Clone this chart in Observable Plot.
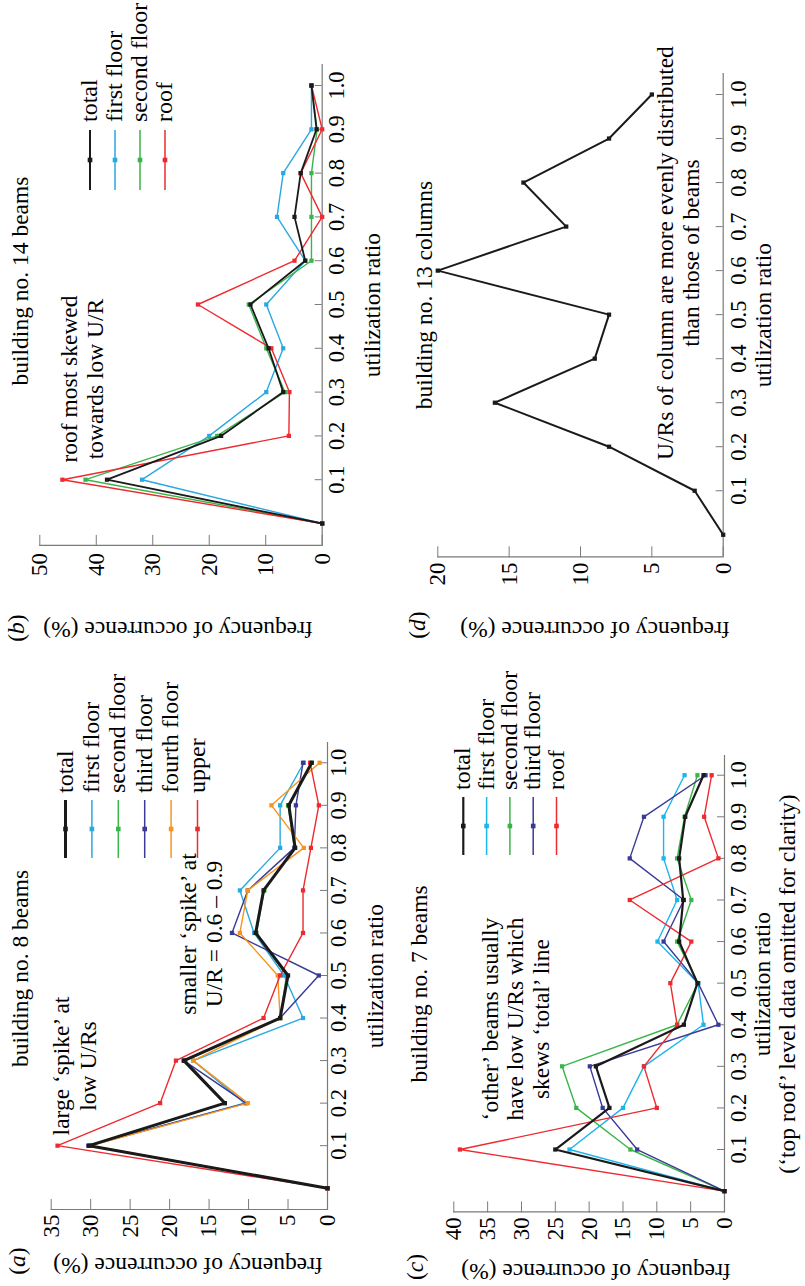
<!DOCTYPE html>
<html>
<head>
<meta charset="utf-8">
<script src="https://cdn.jsdelivr.net/npm/d3@7"></script>
<script src="https://cdn.jsdelivr.net/npm/@observablehq/plot@0.6"></script>
<style>
  html, body { margin: 0; padding: 0; overflow: hidden; background: #fff; }
  #fig { position: absolute; left: 0; top: 0; width: 1286px; height: 805px;
         transform-origin: 0 0; transform: translate(0px, 1286px) rotate(-90deg); }
  .pw { position: absolute; }
  #overlay { position: absolute; left: 0; top: 0; }
  #overlay text { font-family: 'Liberation Serif', 'Times New Roman', serif; font-size: 23.5px; fill: #000; }
</style>
</head>
<body>
<div id="fig"></div>
<script>
// ---------- data ----------
const ur = [0, 0.1, 0.2, 0.3, 0.4, 0.5, 0.6, 0.7, 0.8, 0.9, 1.0];
const urTicks = [0.1, 0.2, 0.3, 0.4, 0.5, 0.6, 0.7, 0.8, 0.9, 1.0];

// (a) building no. 8 beams
const aNames = ["total", "first floor", "second floor", "third floor", "fourth floor", "upper"];
const aTotal  = [0, 30.2, 13.0, 18.2, 6.0, 5.0, 9.1, 8.1, 4.1, 4.9, 2.0];
const aFirst  = [0, 30.0, 10.5, 17.0, 3.1, 5.5, 9.3, 11.1, 6.0, 6.0, 3.0];
const aSecond = [0, 30.0, 13.0, 18.0, 6.0, 5.2, 9.0, 8.0, 4.2, 5.0, 2.0];
const aThird  = [0, 30.3, 10.3, 18.2, 6.0, 1.1, 12.1, 10.1, 4.2, 4.0, 3.1];
const aFourth = [0, 30.0, 10.1, 17.0, 6.0, 6.3, 11.1, 10.1, 3.0, 7.1, 1.0];
const aUpper  = [0, 34.2, 21.2, 19.2, 8.1, 6.0, 3.1, 3.1, 2.1, 1.1, 2.2];
const aYTicks = [0, 5, 10, 15, 20, 25, 30, 35];

// (b) building no. 14 beams
const bNames = ["total", "first floor", "second floor", "roof"];
const bTotal  = [0, 38.1, 17.9, 6.9, 9.5, 12.7, 3.0, 4.9, 3.8, 1.0, 1.9];
const bFirst  = [0, 31.9, 20.0, 9.9, 6.9, 9.9, 3.0, 8.0, 6.9, 1.9, 1.9];
const bSecond = [0, 41.9, 18.6, 6.6, 9.9, 13.0, 1.9, 1.9, 1.9, 0.9, 1.9];
const bRoof   = [0, 46.0, 5.9, 5.8, 9.0, 22.0, 4.9, 0, 3.8, 0, 1.9];
const bYTicks = [0, 10, 20, 30, 40, 50];

// (c) building no. 7 beams
const cNames = ["total", "first floor", "second floor", "third floor", "roof"];
const cTotal  = [0, 25.0, 17.0, 19.0, 6.0, 4.0, 6.7, 6.1, 6.7, 5.8, 3.1];
const cFirst  = [0, 22.9, 15.0, 11.9, 3.1, 3.9, 9.9, 7.0, 9.0, 9.0, 5.9];
const cSecond = [0, 13.9, 21.9, 24.0, 7.0, 3.9, 7.0, 4.9, 7.0, 5.9, 4.0];
const cThird  = [0, 12.9, 18.0, 19.9, 0.9, 3.9, 9.0, 6.0, 14.0, 11.9, 2.8];
const cRoof   = [0, 39.1, 10.0, 11.9, 7.0, 8.0, 4.9, 14.0, 0.9, 3.0, 1.9];
const cYTicks = [0, 5, 10, 15, 20, 25, 30, 35, 40];

// (d) building no. 13 columns
const dTotal  = [0, 2.0, 8.0, 16.0, 9.0, 8.0, 20.0, 11.0, 14.0, 8.0, 5.0];
const dYTicks = [0, 5, 10, 15, 20];

// ---------- styles ----------
const AX = "#7a7a7a";
const FONT = "'Liberation Serif', 'Times New Roman', serif";
const C = {black: "#1a1a1a", blue: "#29a9e0", cyan: "#1cb5ec", green: "#3ab54a",
           navy: "#3a3a96", orange: "#f7941d", red: "#ee2a2f"};

function makePanel(cfg) {
  const marks = [
    Plot.ruleY([0], {stroke: AX, strokeWidth: 1.2}),
    Plot.ruleX([-0.05], {stroke: AX, strokeWidth: 1.2}),
    Plot.axisX(urTicks, {tickFormat: d3.format(".1f"), tickSize: -7, tickPadding: cfg.xPad,
      stroke: AX, fill: "black", fontSize: 22.5, fontFamily: FONT, label: null}),
    Plot.axisY(cfg.yTicks, {tickSize: -11, tickPadding: cfg.yPad, stroke: AX, fill: "black",
      fontSize: 23, fontFamily: FONT, label: null})
  ];
  for (const s of cfg.series) {
    const data = ur.map((u, i) => ({u, f: s.values[i]}));
    marks.push(Plot.line(data, {x: "u", y: "f", stroke: s.color, strokeWidth: s.width}));
    marks.push(Plot.dot(data, {x: "u", y: "f", symbol: "square", r: 2.4, fill: s.color, stroke: "none"}));
  }
  const svg = Plot.plot({
    width: cfg.width, height: cfg.height,
    marginLeft: cfg.mL, marginRight: cfg.width - cfg.xEnd, marginTop: cfg.mT, marginBottom: cfg.height - cfg.yZero,
    x: {domain: [-0.05, 1.05], axis: null},
    y: {domain: [0, cfg.ymax], axis: null},
    style: {background: "none", fontFamily: FONT, fontSize: "22px", overflow: "visible", maxWidth: "none"},
    marks
  });
  const wrap = document.createElement("div");
  wrap.className = "pw";
  wrap.style.left = cfg.left + "px";
  wrap.style.top = cfg.top + "px";
  wrap.style.width = cfg.width + "px";
  wrap.appendChild(svg);
  document.getElementById("fig").appendChild(wrap);
}

// panel (a)
makePanel({left: 0, top: 0, width: 564, height: 400, mL: 76, xEnd: 544, mT: 50.7, yZero: 327,
  ymax: 35, yTicks: aYTicks, xPad: 10, yPad: 16,
  series: [
    {values: aSecond, color: C.green, width: 1.4},
    {values: aFirst, color: C.blue, width: 1.4},
    {values: aThird, color: C.navy, width: 1.4},
    {values: aFourth, color: C.orange, width: 1.4},
    {values: aUpper, color: C.red, width: 1.4},
    {values: aTotal, color: C.black, width: 3}
  ]});

// panel (b)
makePanel({left: 650, top: 0, width: 591.9, height: 400, mL: 90.1, xEnd: 571.9, mT: 39.3, yZero: 321.7,
  ymax: 50, yTicks: bYTicks, xPad: 12.5, yPad: 18.5,
  series: [
    {values: bFirst, color: C.blue, width: 1.4},
    {values: bSecond, color: C.green, width: 1.4},
    {values: bRoof, color: C.red, width: 1.4},
    {values: bTotal, color: C.black, width: 1.8}
  ]});

// panel (c)
makePanel({left: 0, top: 400, width: 551.1, height: 400, mL: 73.6, xEnd: 531.1, mT: 53.3, yZero: 324,
  ymax: 40, yTicks: cYTicks, xPad: 12.5, yPad: 16.3,
  series: [
    {values: cFirst, color: C.cyan, width: 1.4},
    {values: cSecond, color: C.green, width: 1.4},
    {values: cThird, color: C.navy, width: 1.4},
    {values: cRoof, color: C.red, width: 1.4},
    {values: cTotal, color: C.black, width: 2.2}
  ]});

// panel (d)
makePanel({left: 650, top: 400, width: 583, height: 400, mL: 78.7, xEnd: 563, mT: 37.3, yZero: 322.7,
  ymax: 20, yTicks: dYTicks, xPad: 13.5, yPad: 16.7,
  series: [
    {values: dTotal, color: C.black, width: 2}
  ]});

// ---------- overlay: titles, axis titles, annotations, legends ----------
const NS = "http://www.w3.org/2000/svg";
const ov = document.createElementNS(NS, "svg");
ov.setAttribute("id", "overlay");
ov.setAttribute("width", 1286);
ov.setAttribute("height", 805);
document.getElementById("fig").appendChild(ov);

function txt(str, x, y, opts = {}) {
  const t = document.createElementNS(NS, "text");
  t.setAttribute("text-anchor", opts.anchor || "middle");
  if (opts.rotate) t.setAttribute("transform", `translate(${x},${y}) rotate(${opts.rotate})`);
  else { t.setAttribute("x", x); t.setAttribute("y", y); }
  if (opts.size) t.style.fontSize = opts.size + "px";
  t.textContent = str;
  ov.appendChild(t);
  return t;
}
function panelLabel(letter, x, y) {
  const t = document.createElementNS(NS, "text");
  t.setAttribute("x", x); t.setAttribute("y", y);
  t.setAttribute("text-anchor", "middle");
  const a = document.createElementNS(NS, "tspan"); a.textContent = "(";
  const b = document.createElementNS(NS, "tspan"); b.textContent = letter; b.setAttribute("font-style", "italic");
  const c = document.createElementNS(NS, "tspan"); c.textContent = ")";
  t.append(a, b, c);
  ov.appendChild(t);
}
function legend(names, colors, widths, x0, x1, xt, y0, dy) {
  names.forEach((n, i) => {
    const y = y0 + i * dy;
    const l = document.createElementNS(NS, "line");
    l.setAttribute("x1", x0); l.setAttribute("x2", x1); l.setAttribute("y1", y); l.setAttribute("y2", y);
    l.setAttribute("stroke", colors[i]); l.setAttribute("stroke-width", widths[i]);
    ov.appendChild(l);
    const r = document.createElementNS(NS, "rect");
    const xm = (x0 + x1) / 2;
    r.setAttribute("x", xm - 2.3); r.setAttribute("y", y - 2.3); r.setAttribute("width", 4.6); r.setAttribute("height", 4.6);
    r.setAttribute("fill", colors[i]);
    ov.appendChild(r);
    txt(n, xt, y + 7, {anchor: "start", size: 24});
  });
}

// panel labels
panelLabel("a", 25, 25);
panelLabel("b", 658, 24);
panelLabel("c", 19, 423);
panelLabel("d", 661, 425);

// titles
txt("building no. 8 beams", 317.5, 28);
txt("building no. 14 beams", 1005, 28);
txt("building no. 7 beams", 302, 427);
txt("building no. 13 columns", 991, 432);

// axis titles
txt("utilization ratio", 310, 383);
txt("utilization ratio", 981, 380);
txt("utilization ratio", 302, 770);
txt("(‘top roof’ level data omitted for clarity)", 302, 795);
txt("utilization ratio", 971, 771);
txt("frequency of occurrence (%)", 28, 188, {rotate: -90});
txt("frequency of occurrence (%)", 664, 178, {rotate: -90});
txt("frequency of occurrence (%)", 22, 596, {rotate: -90});
txt("frequency of occurrence (%)", 664, 595, {rotate: -90});

// annotations
txt("large ‘spike’ at", 220, 69);
txt("low U/Rs", 220, 96);
txt("smaller ‘spike’ at", 352, 196);
txt("U/R = 0.6 – 0.9", 352, 222);
txt("roof most skewed", 907, 77);
txt("towards low U/R", 907, 103);
txt("‘other’ beams usually", 267, 498);
txt("have low U/Rs which", 267, 523);
txt("skews ‘total’ line", 267, 549);
txt("U/Rs of column are more evenly distributed", 1033, 673);
txt("than those of beams", 1033, 699);

// legends
legend(aNames, [C.black, C.blue, C.green, C.navy, C.orange, C.red], [3, 1.5, 1.5, 1.5, 1.5, 1.5], 428, 486, 493, 65.5, 26.4);
legend(bNames, [C.black, C.blue, C.green, C.red], [2, 1.5, 1.5, 1.5], 1096, 1156, 1164, 90, 25);
legend(cNames, [C.black, C.cyan, C.green, C.navy, C.red], [2.2, 1.5, 1.5, 1.5, 1.5], 431, 489, 496, 463.3, 23.3);
</script>
</body>
</html>
